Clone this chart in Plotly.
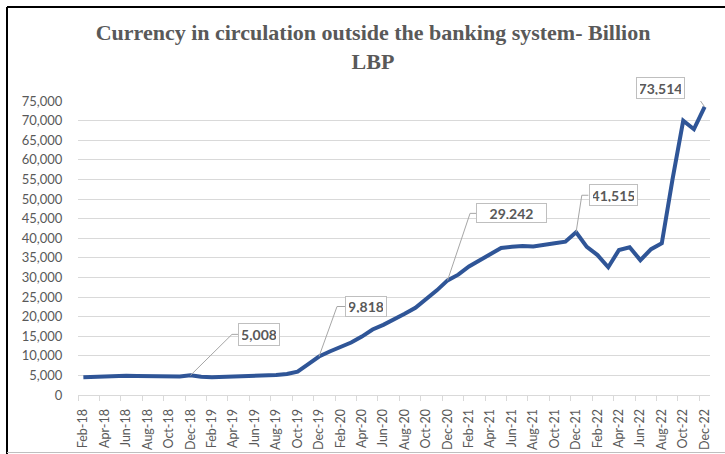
import plotly.graph_objects as go

# Monthly currency in circulation outside the banking system (billion LBP)
months = [
    "Feb-18", "Mar-18", "Apr-18", "May-18", "Jun-18", "Jul-18", "Aug-18", "Sep-18", "Oct-18", "Nov-18", "Dec-18",
    "Jan-19", "Feb-19", "Mar-19", "Apr-19", "May-19", "Jun-19", "Jul-19", "Aug-19", "Sep-19", "Oct-19", "Nov-19", "Dec-19",
    "Jan-20", "Feb-20", "Mar-20", "Apr-20", "May-20", "Jun-20", "Jul-20", "Aug-20", "Sep-20", "Oct-20", "Nov-20", "Dec-20",
    "Jan-21", "Feb-21", "Mar-21", "Apr-21", "May-21", "Jun-21", "Jul-21", "Aug-21", "Sep-21", "Oct-21", "Nov-21", "Dec-21",
    "Jan-22", "Feb-22", "Mar-22", "Apr-22", "May-22", "Jun-22", "Jul-22", "Aug-22", "Sep-22", "Oct-22", "Nov-22", "Dec-22",
]
currency = [
    4500, 4650, 4800, 4850, 4900, 4850, 4800, 4780, 4750, 4750, 5008,
    4650, 4550, 4600, 4720, 4820, 4900, 4950, 5080, 5350, 5950, 7900, 9818,
    11100, 12300, 13400, 14900, 16700, 17900, 19250, 20700, 22250, 24400, 26700, 29242,
    30700, 32800, 34300, 36000, 37500, 37800, 38000, 37900, 38200, 38700, 39100, 41515,
    37800, 35700, 32600, 37000, 37700, 34400, 37200, 38700, 55000, 70000, 67800, 73514,
]
labelled_months = ["Dec-18", "Dec-19", "Dec-20", "Dec-21", "Dec-22"]

y_ticks = list(range(0, 75001, 5000))
y_ticktext = [f"{v:,}" for v in y_ticks]

# Callout placement: (box dx, box dy, box width, box height, elbow dx, elbow dy, edge dx) in pixels
callout_style = {
    "Dec-18": (68.5, 41, 42, 23, 41.5, 41, 47.5),
    "Dec-19": (47, 50, 42, 21, 18, 50, 26),
    "Dec-20": (64, 67, 71, 20, 22.5, 67, 28.5),
    "Dec-21": (37, 37, 49, 22, 5.7, 37, 12.3),
    "Dec-22": (-43.8, 19, 49, 22, -13.3, 19, -19.3),
}

W, H = 725, 454
ML, MR, MT, MB = 78, 15, 101, 59
PW, PH = W - ML - MR, H - MT - MB

GRID = "#d9d9d9"
TXT = "#595959"
LINE = "#2F5597"

x_idx = list(range(len(months)))

fig = go.Figure()
fig.add_trace(go.Scatter(
    x=x_idx, y=currency, mode="lines",
    line=dict(color=LINE, width=4),
    hoverinfo="skip", showlegend=False,
))

shapes = []
annotations = []
for m in labelled_months:
    i = months.index(m)
    v = currency[i]
    bx, by, bw, bh, ex, ey, edx = callout_style[m]
    for (x0, y0, x1, y1) in [(0, 0, ex, ey), (ex, ey, edx, ey)]:
        shapes.append(dict(
            type="line", xref="x", yref="y",
            xsizemode="pixel", ysizemode="pixel",
            xanchor=i, yanchor=v,
            x0=x0, y0=y0, x1=x1, y1=y1,
            line=dict(color="#a6a6a6", width=1),
        ))
    annotations.append(dict(
        x=i, y=v, xref="x", yref="y", showarrow=False,
        xshift=bx, yshift=by, xanchor="center", yanchor="middle",
        text=f"<b>{v:,}</b>",
        font=dict(family="Lato", size=14, color=TXT),
        bgcolor="white", bordercolor="#bfbfbf", borderwidth=1, borderpad=3,
        width=bw - 8, height=bh - 8,
    ))


def px_to_paper_x(px):
    return (px - ML) / PW


def px_to_paper_y(py):
    return (H - MB - py) / PH


# Outer frame: dark left/top edges, grey bottom edge
shapes.append(dict(type="line", xref="paper", yref="paper",
                   x0=px_to_paper_x(7), x1=px_to_paper_x(W + 5),
                   y0=px_to_paper_y(7), y1=px_to_paper_y(7),
                   line=dict(color="black", width=2)))
shapes.append(dict(type="line", xref="paper", yref="paper",
                   x0=px_to_paper_x(7), x1=px_to_paper_x(7),
                   y0=px_to_paper_y(7), y1=px_to_paper_y(H + 5),
                   line=dict(color="black", width=2)))
shapes.append(dict(type="line", xref="paper", yref="paper",
                   x0=px_to_paper_x(7), x1=px_to_paper_x(W + 5),
                   y0=px_to_paper_y(452.5), y1=px_to_paper_y(452.5),
                   line=dict(color="#bfbfbf", width=1)))

fig.update_layout(
    width=W, height=H,
    margin=dict(l=ML, r=MR, t=MT, b=MB, autoexpand=False),
    paper_bgcolor="white", plot_bgcolor="white",
    title=dict(
        text="<b>Currency in circulation outside the banking system- Billion<br>LBP</b>",
        font=dict(family="Liberation Serif", size=22, color=TXT),
        x=373 / W, xanchor="center", xref="container",
        y=1 - 40 / H, yanchor="top", yref="container",
    ),
    xaxis=dict(
        range=[-0.5, len(months) - 0.5],
        tickmode="array", tickvals=x_idx[::2], ticktext=months[::2],
        tickangle=-90,
        tickfont=dict(family="Lato", size=12.5, color=TXT),
        ticks="outside", ticklen=8, tickcolor="rgba(0,0,0,0)",
        showgrid=False, zeroline=False,
        showline=True, linecolor=GRID, linewidth=1,
        minor=dict(tick0=-0.5, dtick=2, ticks="outside", ticklen=5,
                   tickcolor=GRID, tickwidth=1, showgrid=False),
        fixedrange=True,
    ),
    yaxis=dict(
        range=[0, 75000],
        tickmode="array", tickvals=y_ticks, ticktext=y_ticktext,
        tickfont=dict(family="Lato", size=13, color=TXT),
        ticks="outside", ticklen=12, tickcolor="rgba(0,0,0,0)",
        showgrid=True, gridcolor=GRID, gridwidth=1,
        zeroline=False, showline=False,
        fixedrange=True,
    ),
    shapes=shapes,
    annotations=annotations,
)

fig.write_html("out.html")
